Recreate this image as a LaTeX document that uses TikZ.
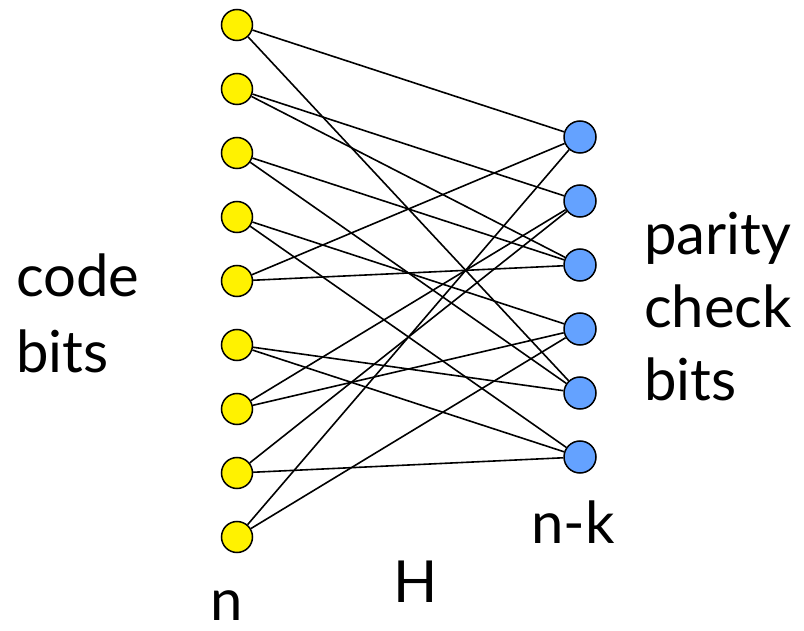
\documentclass[tikz,border=0pt]{standalone}
\usepackage{fontspec}
\setmainfont{Lato}
\usepackage{tikz}
\usetikzlibrary{shapes, arrows, calc, positioning}
\definecolor{checkblue}{RGB}{100,162,255}
\tikzstyle{codebit} = [circle, draw, fill=yellow, line width=1.5pt, minimum size=31pt, inner sep=0pt]
\tikzstyle{checkbit} = [circle, draw, fill=checkblue, line width=1.5pt, minimum size=32pt, inner sep=0pt]
\tikzstyle{edge} = [draw, line width=1.6pt]
\tikzstyle{bigtext} = [font=\fontsize{58}{70}\selectfont, inner sep=0pt, anchor=base west]

\begin{document}
\begin{tikzpicture}[x=1pt, y=-1pt, node distance=64pt, on grid]
        \useasboundingbox (0,0) rectangle (804,631);

        % code bits
        \node[codebit] (c1) at (237,25) {};
        \node[codebit, below=of c1] (c2) {};
        \node[codebit, below=of c2] (c3) {};
        \node[codebit, below=of c3] (c4) {};
        \node[codebit, below=of c4] (c5) {};
        \node[codebit, below=of c5] (c6) {};
        \node[codebit, below=of c6] (c7) {};
        \node[codebit, below=of c7] (c8) {};
        \node[codebit, below=of c8] (c9) {};

        % parity check bits
        \node[checkbit] (p1) at (580,137) {};
        \node[checkbit, below=of p1] (p2) {};
        \node[checkbit, below=of p2] (p3) {};
        \node[checkbit, below=of p3] (p4) {};
        \node[checkbit, below=of p4] (p5) {};
        \node[checkbit, below=of p5] (p6) {};

        % edges of H
        \path[edge] (c1) -- (p1);
        \path[edge] (c1) -- (p5);
        \path[edge] (c2) -- (p2);
        \path[edge] (c2) -- (p3);
        \path[edge] (c3) -- (p3);
        \path[edge] (c3) -- (p5);
        \path[edge] (c4) -- (p4);
        \path[edge] (c4) -- (p6);
        \path[edge] (c5) -- (p1);
        \path[edge] (c5) -- (p3);
        \path[edge] (c6) -- (p5);
        \path[edge] (c6) -- (p6);
        \path[edge] (c7) -- (p2);
        \path[edge] (c7) -- (p4);
        \path[edge] (c8) -- (p2);
        \path[edge] (c8) -- (p6);
        \path[edge] (c9) -- (p1);
        \path[edge] (c9) -- (p4);

        % labels
        \node[bigtext] (code) at (16,297) {code};
        \node[bigtext] (bitsl) at (16,372) {bits};
        \node[bigtext] (parity) at (644,255) {parity};
        \node[bigtext] (check) at (644,328) {check};
        \node[bigtext] (bitsr) at (644,400) {bits};
        \node[bigtext] (nk) at (531,543) {n-k};
        \node[bigtext] (hmat) at (393,602) {H};
        \node[bigtext] (nn) at (210,620) {n};
    \end{tikzpicture}
\end{document}
